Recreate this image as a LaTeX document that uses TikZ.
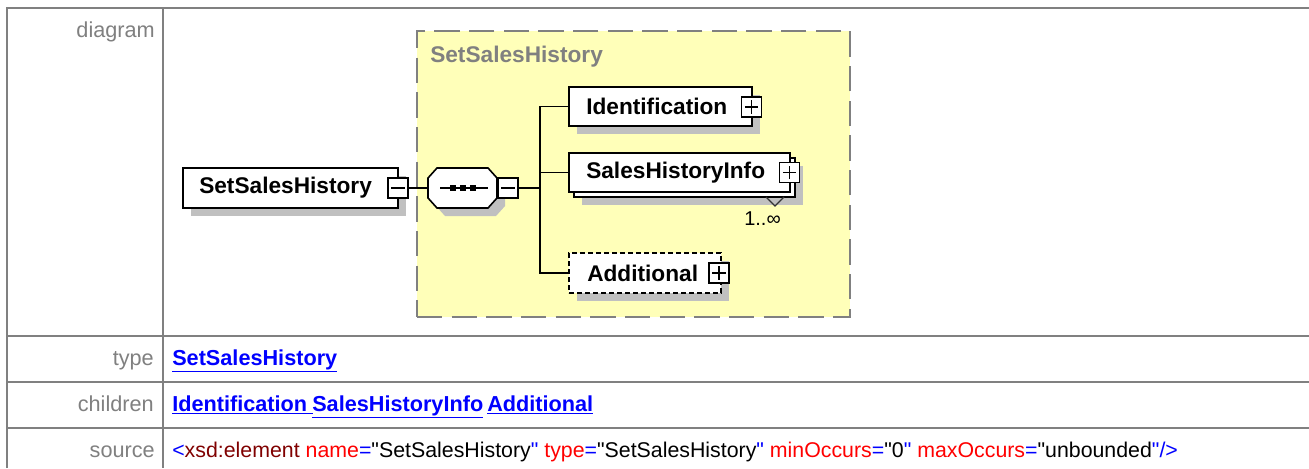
\documentclass[tikz,border=0pt]{standalone}
\usepackage{fontspec}
\setmainfont{Liberation Sans}[Ligatures=TeXOff]
\usetikzlibrary{shadows}
\definecolor{tblgray}{RGB}{128,128,128}
\definecolor{shgray}{RGB}{192,192,192}
\definecolor{yel}{RGB}{255,255,185}
\definecolor{lnk}{RGB}{0,0,255}
\definecolor{dred}{RGB}{128,0,0}
\definecolor{xred}{RGB}{255,0,0}
\begin{document}
\begin{tikzpicture}[x=0.75pt,y=-0.75pt,
  tbl/.style={draw=tblgray, line width=2pt},
  lbl/.style={anchor=base east, text=tblgray, inner sep=0pt, font=\fontsize{16.25}{19}\selectfont},
  val/.style={anchor=base west, inner sep=0pt, font=\fontsize{16}{19}\selectfont},
  link/.style={val, text=lnk, font=\bfseries\fontsize{16.25}{19}\selectfont},
  shd/.style={general shadow={fill=shgray, shadow xshift=6pt, shadow yshift=-6pt}},
  elembox/.style={draw=black, fill=white, line width=1.2pt, inner sep=0pt},
  etext/.style={anchor=west, inner sep=0pt, font=\bfseries\fontsize{17}{20}\selectfont},
  pmbox/.style={draw=black, fill=white, line width=1pt, minimum size=15pt, inner sep=0pt},
  conn/.style={draw=black, line width=1.2pt}
]
\useasboundingbox (0,0) rectangle (1309,468);
\fill[white] (0,0) rectangle (1309,468);

% ---------- table ----------
\draw[tbl] (7,468) -- (7,8) -- (1309,8);
\draw[tbl] (163,8) -- (163,468);
\draw[tbl] (7,336) -- (1309,336);
\draw[tbl] (7,382) -- (1309,382);
\draw[tbl] (7,428) -- (1309,428);

\node[lbl] (ldiag) at (155,37) {diagram};
\node[lbl] (ltype) at (154,365) {type};
\node[lbl] (lchild) at (154,411) {children};
\node[lbl] (lsrc) at (155,457) {source};

\node[link] (vtype) at (172,365) {\underline{SetSalesHistory}};
\node[link] (vc1) at (172,411) {\underline{Identification\ }};
\node[link] (vc2) at (312,411) {\underline{SalesHistoryInfo}};
\node[link] (vc3) at (487,411) {\underline{Additional}};
\node[val] (vsrc) at (172,457) {\textcolor{lnk}{<}\textcolor{dred}{xsd:element} \textcolor{xred}{name}\textcolor{lnk}{=}"SetSalesHistory\textcolor{lnk}{"} \textcolor{xred}{type}\textcolor{lnk}{=}"SetSalesHistory\textcolor{lnk}{"} \textcolor{xred}{minOccurs}\textcolor{lnk}{=}"0\textcolor{lnk}{"} \textcolor{xred}{maxOccurs}\textcolor{lnk}{=}"unbounded\textcolor{lnk}{"/>}};

% ---------- diagram ----------
\node[draw=tblgray, line width=1.5pt, dash pattern=on 19pt off 7pt, fill=yel,
      minimum width=324.75pt, minimum height=214.5pt, inner sep=0pt] (grp) at (633.5,174) {};
\node[anchor=west, inner sep=0pt, text=tblgray, font=\bfseries\fontsize{17}{20}\selectfont] (grpt) at (430,57) {SetSalesHistory};

% root element
\node[elembox, shd, minimum width=161.25pt, minimum height=30pt] (elem) at (290.5,188) {};
\node[etext] (elemt) at (199,188) {SetSalesHistory};
\node[pmbox] (em) at (398,188) {};
\draw[line width=1pt] (em.center) +(-5pt,0) -- +(5pt,0);

% sequence compositor
\node[inner sep=0pt, minimum width=51.75pt, minimum height=30pt] (seq) at (462.5,188) {};
\fill[shgray, shift={(8,8)}] (437,168) -- (488,168) -- (497,178) -- (497,198) -- (488,208) -- (437,208) -- (428,198) -- (428,178) -- cycle;
\filldraw[fill=white, draw=black, line width=1.2pt] (437,168) -- (488,168) -- (497,178) -- (497,198) -- (488,208) -- (437,208) -- (428,198) -- (428,178) -- cycle;
\draw[line width=1pt] (440,188) -- (488,188);
\fill (450,185) rectangle (456,191);
\fill (460,185) rectangle (466,191);
\fill (470,185) rectangle (476,191);
\node[pmbox] (sm) at (508,188) {};
\draw[line width=1pt] (sm.center) +(-5pt,0) -- +(5pt,0);

% Identification
\node[elembox, shd, minimum width=137.25pt, minimum height=29.25pt] (id) at (660.5,106.5) {};
\node[etext] (idt) at (586,106.5) {Identification};
\node[pmbox] (ip) at (751.5,107) {};
\draw[line width=1pt] (ip.center) +(-5pt,0) -- +(5pt,0) +(0,-5pt) -- +(0,5pt);

% SalesHistoryInfo (multiple)
\node[elembox, shd, minimum width=165.75pt, minimum height=29.25pt] (shib) at (684.5,177.5) {};
\node[elembox, minimum width=165.75pt, minimum height=29.25pt] (shi) at (679.5,172.5) {};
\node[etext] (shit) at (586,172.5) {SalesHistoryInfo};
\node[pmbox] (sp) at (789.5,172.5) {};
\draw[line width=1pt] (sp.center) +(-5pt,0) -- +(5pt,0) +(0,-5pt) -- +(0,5pt);
\draw[line width=0.9pt, draw=black!80] (766,197) -- (775,206) -- (784,197);
\node[inner sep=0pt, font=\fontsize{15}{17}\selectfont] (occ) at (762.5,219) {1..∞};

% Additional (optional)
\node[elembox, shd, dash pattern=on 3.5pt off 2.5pt, minimum width=114pt, minimum height=30pt] (add) at (645,273) {};
\node[etext] (addt) at (587,273) {Additional};
\node[pmbox] (ap) at (719,273) {};
\draw[line width=1pt] (ap.center) +(-5pt,0) -- +(5pt,0) +(0,-5pt) -- +(0,5pt);

% connectors
\coordinate (bus) at (540,188);
\draw[conn] (em.east) -- (seq.west);
\draw[conn] (sm.east) -- (bus);
\draw[conn] (id.west) -- (id.west -| bus) -- (add.west -| bus) -- (add.west);
\draw[conn] (shi.west) -- (shi.west -| bus);
\end{tikzpicture}
\end{document}
